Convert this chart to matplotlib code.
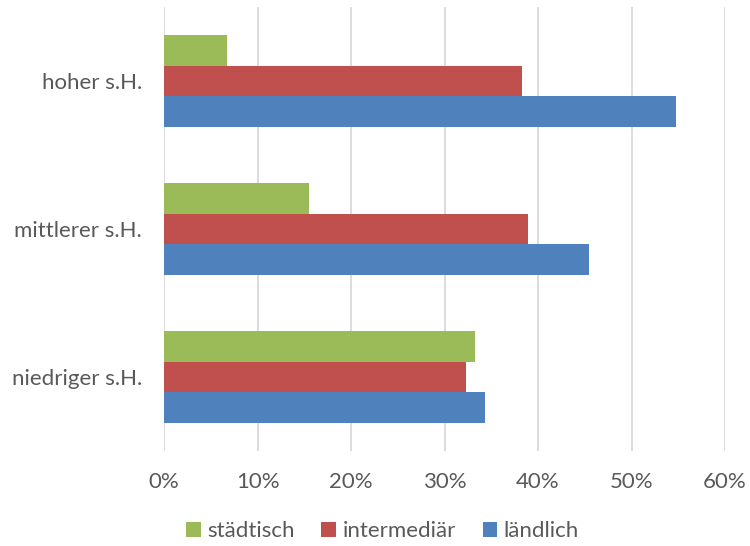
import numpy as np
import matplotlib.pyplot as plt
from matplotlib.ticker import PercentFormatter

plt.rcParams['font.family'] = ['Lato', 'DejaVu Sans']

categories = ['niedriger s.H.', 'mittlerer s.H.', 'hoher s.H.']
series = ['städtisch', 'intermediär', 'ländlich']
staedtisch = [33.3, 15.5, 6.7]
intermediaer = [32.3, 38.9, 38.3]
laendlich = [34.3, 45.5, 54.8]
colors = ['#9BBB59', '#C0504D', '#4F81BD']

fig = plt.figure(figsize=(7.5, 5.46), dpi=100)
ax = fig.add_axes([0.2187, 0.174, 0.748, 0.813])

y = np.arange(len(categories))
h = 0.207
values = [staedtisch, intermediaer, laendlich]
offsets = [h, 0, -h]
for vals, off, c, name in zip(values, offsets, colors, series):
    ax.barh(y + off, vals, height=h, color=c, label=name, zorder=3)

ax.set_xlim(0, 60)
ax.set_ylim(-0.5, 2.5)
ax.set_xticks(np.arange(0, 61, 10))
ax.xaxis.set_major_formatter(PercentFormatter(decimals=0))
ax.set_yticks(y)
ax.set_yticklabels(categories)
ax.grid(axis='x', color='#D9D9D9', linewidth=1.3, zorder=0)
for s in ax.spines.values():
    s.set_visible(False)
ax.tick_params(axis='both', length=0, labelsize=16, colors='#595959')
ax.tick_params(axis='x', pad=15)
ax.tick_params(axis='y', pad=16)

fig.legend(loc='lower center', bbox_to_anchor=(0.51, -0.028), ncol=3, frameon=False,
           fontsize=16, labelcolor='#595959', handlelength=0.65, handleheight=0.65,
           handletextpad=0.3, columnspacing=1.2)

fig.savefig('out.png', dpi=100)
